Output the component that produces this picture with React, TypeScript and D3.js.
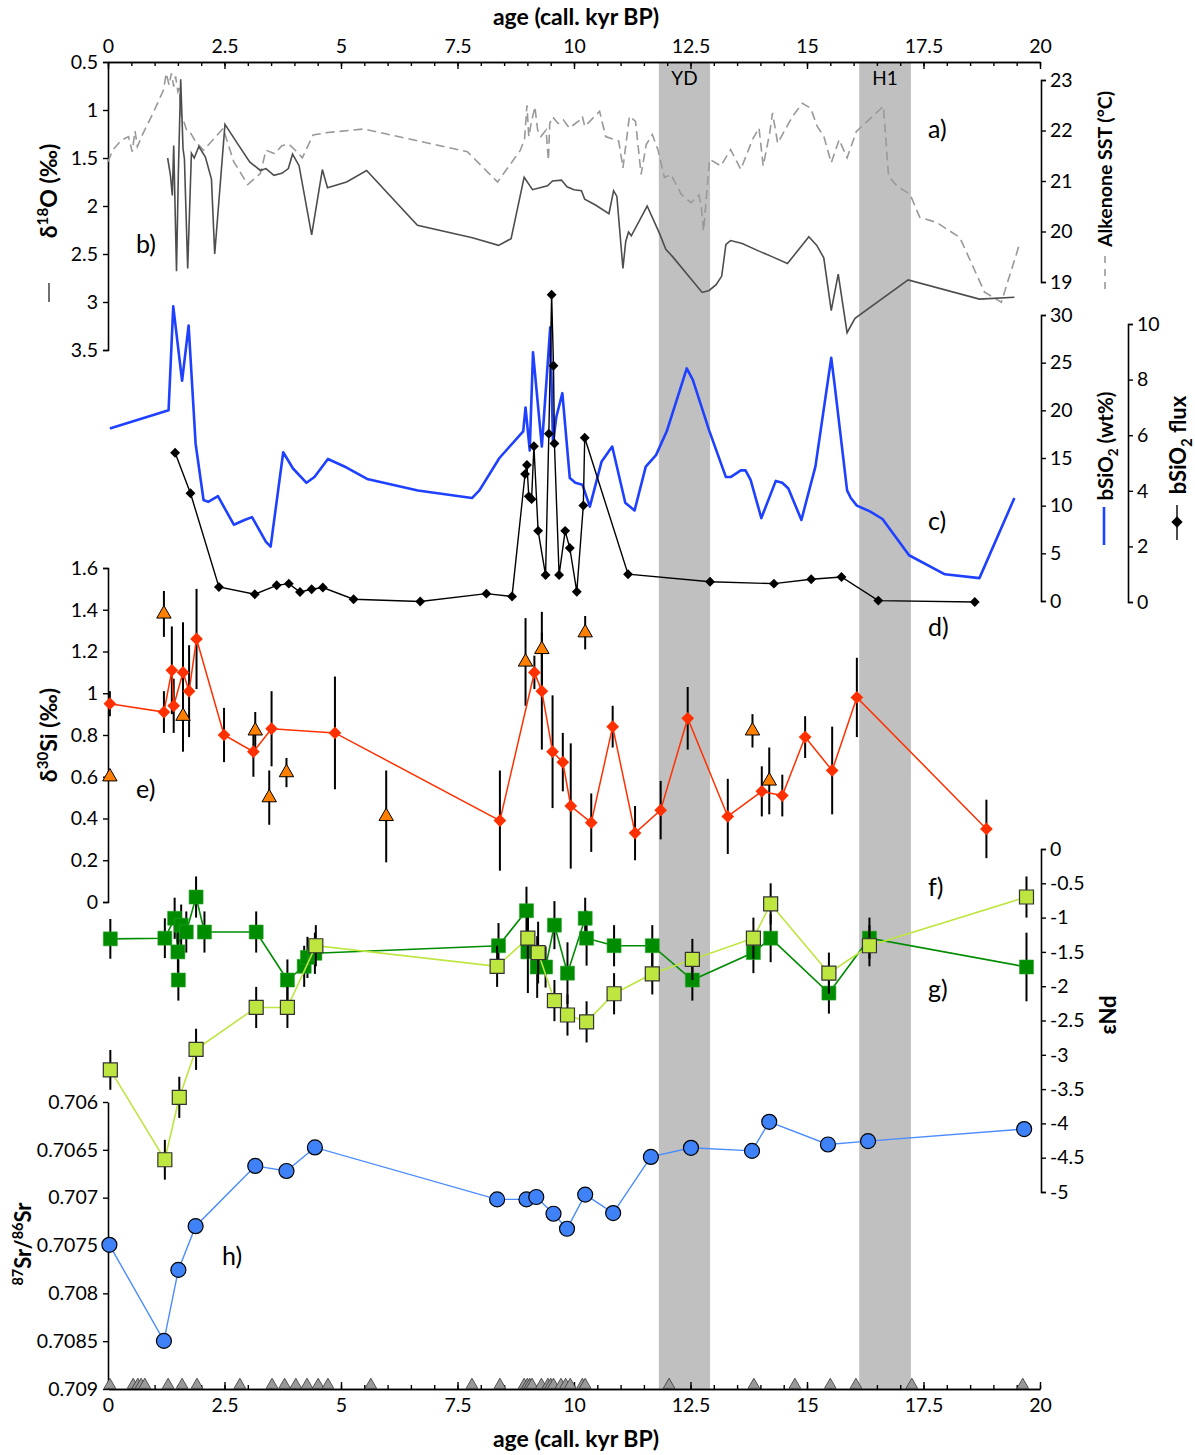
import React, { useEffect, useRef } from 'react';
import * as d3 from 'd3';

const W = 1195;
const H = 1455;
const FONT = 'Lato, "Open Sans", sans-serif';

// climate event bands (kyr BP)
const bands: [string, number, number][] = [
  ['YD', 11.82, 12.92],
  ['H1', 16.12, 17.23],
];

// b) d18O (permil) [age, value]
const d18O: [number, number][] = [
  [1.28, 1.5], [1.34, 1.68], [1.38, 1.89], [1.41, 1.37], [1.47, 2.68], [1.51, 1.65], [1.56, 0.68], [1.61, 1.4],
  [1.64, 1.51], [1.71, 2.65], [1.79, 1.45], [1.85, 1.5], [1.95, 1.38], [2.09, 1.49], [2.22, 1.72], [2.29, 2.5],
  [2.51, 1.15], [2.78, 1.35], [3.04, 1.54], [3.27, 1.63], [3.39, 1.61], [3.56, 1.68], [3.73, 1.66], [3.87, 1.61],
  [3.96, 1.46], [4.1, 1.58], [4.37, 2.3], [4.6, 1.62], [4.71, 1.81], [5.12, 1.75], [5.55, 1.63], [6.64, 2.2],
  [7.82, 2.33], [8.38, 2.41], [8.65, 2.34], [8.93, 1.7], [9.11, 1.83], [9.43, 1.79], [9.54, 1.74], [9.73, 1.73],
  [9.85, 1.8], [10.0, 1.83], [10.16, 1.84], [10.23, 1.93], [10.46, 1.99], [10.75, 2.08], [10.85, 1.84], [10.92, 1.9],
  [11.05, 2.65], [11.11, 2.37], [11.17, 2.27], [11.23, 2.31], [11.57, 2.0], [11.83, 2.28], [11.97, 2.45], [12.12, 2.53],
  [12.75, 2.9], [12.9, 2.88], [13.05, 2.82], [13.17, 2.73], [13.26, 2.4], [13.36, 2.36], [13.61, 2.39], [13.97, 2.47],
  [14.26, 2.53], [14.58, 2.6], [15.04, 2.32], [15.21, 2.41], [15.36, 2.54], [15.52, 3.09], [15.67, 2.71], [15.86, 3.32],
  [16.03, 3.17], [17.17, 2.77], [18.7, 2.97], [19.45, 2.95],
];

// a) alkenone SST (degC) [age, value]
const sst: [number, number][] = [
  [0, 21.38], [0.1, 21.61], [0.29, 21.81], [0.44, 21.88], [0.52, 21.58], [0.58, 21.99], [0.63, 21.68], [0.75, 21.94],
  [0.98, 22.37], [1.19, 22.8], [1.25, 23.13], [1.31, 22.9], [1.36, 23.13], [1.41, 22.87], [1.45, 23.07], [1.5, 22.77],
  [1.53, 22.84], [1.57, 22.31], [1.63, 22.17], [1.7, 21.97], [1.78, 21.94], [1.88, 21.78], [2.05, 21.61], [2.47, 22.04],
  [2.7, 21.38], [3.0, 20.93], [3.27, 21.15], [3.39, 21.61], [3.58, 21.54], [3.73, 21.7], [3.88, 21.73], [4.02, 21.61],
  [4.17, 21.46], [4.4, 21.91], [4.72, 21.96], [5.49, 22.03], [7.71, 21.58], [8.36, 20.98], [8.85, 21.61], [8.94, 21.84],
  [8.99, 22.5], [9.03, 21.88], [9.08, 22.14], [9.16, 22.47], [9.22, 22.01], [9.29, 21.88], [9.4, 22.01], [9.45, 21.41],
  [9.48, 22.14], [9.54, 22.27], [9.66, 22.14], [9.77, 22.21], [9.9, 22.05], [10.13, 22.21], [10.18, 22.28], [10.23, 22.08],
  [10.55, 22.38], [10.68, 21.88], [10.96, 21.79], [11.05, 21.26], [11.19, 22.28], [11.32, 22.18], [11.44, 21.13], [11.55, 21.72],
  [11.68, 21.92], [11.8, 21.62], [11.94, 21.07], [12.08, 21.13], [12.3, 20.74], [12.51, 20.57], [12.68, 20.72], [12.73, 20.51],
  [12.78, 20.01], [12.91, 21.43], [13.15, 21.3], [13.36, 21.62], [13.58, 21.23], [13.83, 21.82], [13.97, 22.05], [14.06, 21.3],
  [14.2, 21.95], [14.26, 22.35], [14.37, 21.75], [14.69, 22.28], [14.9, 22.54], [15.08, 22.44], [15.22, 22.08], [15.36, 21.89],
  [15.52, 21.36], [15.69, 21.82], [15.86, 21.46], [16.06, 21.98], [16.64, 22.48], [16.75, 21.1], [16.93, 20.9], [17.21, 20.74],
  [17.42, 20.28], [17.78, 20.18], [18.28, 19.88], [18.81, 18.8], [19.17, 18.6], [19.56, 19.75],
];

// c) bSiO2 (wt%) [age, value]
const bsio2: [number, number][] = [
  [0.04, 18.1], [1.3, 20.0], [1.4, 30.9], [1.59, 23.1], [1.73, 28.9], [1.88, 16.5], [2.05, 10.6], [2.15, 10.4],
  [2.36, 11.0], [2.7, 8.0], [2.93, 8.5], [3.09, 8.8], [3.39, 6.2], [3.49, 5.7], [3.76, 15.6], [3.97, 13.9],
  [4.26, 12.4], [4.43, 13.0], [4.72, 14.9], [5.12, 14.0], [5.56, 12.8], [6.65, 11.6], [7.81, 10.8], [7.97, 11.6],
  [8.4, 15.0], [8.91, 17.8], [8.96, 20.3], [9.05, 15.8], [9.12, 26.1], [9.31, 16.2], [9.49, 28.7], [9.55, 16.5],
  [9.62, 19.3], [9.75, 21.8], [9.91, 12.9], [10.03, 12.4], [10.18, 12.2], [10.34, 9.9], [10.59, 14.6], [10.82, 16.2],
  [11.1, 10.3], [11.3, 9.5], [11.54, 14.1], [11.76, 15.3], [11.99, 17.8], [12.42, 24.4], [12.55, 23.2], [12.9, 17.9],
  [13.26, 13.0], [13.36, 13.0], [13.58, 13.7], [13.68, 13.7], [13.79, 12.7], [14.02, 8.7], [14.33, 12.6], [14.47, 12.4],
  [14.6, 11.8], [14.88, 8.5], [15.18, 14.1], [15.52, 25.5], [15.59, 22.8], [15.86, 11.6], [15.94, 10.8], [16.07, 10.0],
  [16.35, 9.4], [16.62, 8.6], [17.19, 4.8], [17.96, 2.8], [18.7, 2.4], [19.45, 10.8],
];

// d) bSiO2 flux [age, value]
const flux: [number, number][] = [
  [1.44, 5.37], [1.77, 3.91], [2.38, 0.54], [3.15, 0.28], [3.62, 0.6], [3.88, 0.66], [4.12, 0.36], [4.37, 0.46],
  [4.61, 0.52], [5.27, 0.1], [6.7, 0.02], [8.12, 0.3], [8.67, 0.2], [8.95, 4.6], [8.99, 4.93], [9.03, 3.8],
  [9.09, 3.7], [9.14, 5.6], [9.23, 2.56], [9.39, 0.97], [9.46, 6.05], [9.52, 11.05], [9.56, 8.5], [9.58, 5.7],
  [9.68, 0.97], [9.81, 2.56], [9.91, 1.94], [10.06, 0.37], [10.2, 3.47], [10.23, 5.91], [11.16, 1.0], [12.92, 0.73],
  [14.29, 0.66], [15.09, 0.82], [15.74, 0.9], [16.53, 0.05], [18.6, 0.0],
];

// e) d30Si diatoms [age, value, error]
const d30Si: [number, number, number][] = [
  [0.04, 0.95, 0.06], [1.2, 0.91, 0.1], [1.37, 1.11, 0.21], [1.41, 0.94, 0.13], [1.61, 1.1, 0.24], [1.74, 1.01, 0.22],
  [1.9, 1.26, 0.24], [2.49, 0.8, 0.13], [3.12, 0.72, 0.12], [3.51, 0.83, 0.18], [4.87, 0.81, 0.27], [8.41, 0.39, 0.24],
  [9.15, 1.1, 0.08], [9.31, 1.01, 0.28], [9.54, 0.72, 0.27], [9.76, 0.67, 0.14], [9.93, 0.46, 0.3], [10.37, 0.38, 0.14],
  [10.83, 0.84, 0.1], [11.31, 0.33, 0.13], [11.86, 0.44, 0.14], [12.44, 0.88, 0.15], [13.3, 0.41, 0.18], [14.03, 0.53, 0.12],
  [14.47, 0.51, 0.1], [14.96, 0.79, 0.1], [15.54, 0.63, 0.21], [16.07, 0.98, 0.19], [18.85, 0.35, 0.14],
];

// e) d30Si second fraction (triangles) [age, value, error]
const d30SiTri: [number, number, number][] = [
  [0.04, 0.6, 0], [1.2, 1.38, 0.11], [1.61, 0.89, 0.17], [3.16, 0.82, 0.09], [3.46, 0.5, 0.13], [3.83, 0.62, 0.07],
  [5.97, 0.41, 0.22], [8.96, 1.15, 0.21], [9.31, 1.21, 0.18], [10.24, 1.29, 0.08], [13.83, 0.82, 0.08], [14.19, 0.58, 0.16],
];

// f) eNd dark green [age, value, error]
const ndF: [number, number, number][] = [
  [0.05, -1.31, 0.29], [1.22, -1.3, 0.29], [1.43, -1.01, 0.3], [1.5, -1.5, 0.3], [1.57, -1.11, 0.3], [1.68, -1.21, 0.3],
  [1.89, -0.7, 0.3], [2.07, -1.21, 0.3], [3.18, -1.21, 0.3], [3.85, -1.91, 0.3], [4.21, -1.71, 0.3], [4.28, -1.58, 0.3],
  [4.44, -1.52, 0.3], [8.38, -1.41, 0.33], [8.98, -0.9, 0.35], [9.01, -1.5, 0.6], [9.21, -1.72, 0.45], [9.39, -1.72, 0.3],
  [9.58, -1.11, 0.35], [9.86, -1.81, 0.45], [10.24, -1.01, 0.3], [10.27, -1.3, 0.4], [10.86, -1.41, 0.3], [11.68, -1.41, 0.3],
  [12.54, -1.91, 0.3], [13.85, -1.51, 0.3], [14.22, -1.3, 0.35], [15.47, -2.1, 0.3], [16.34, -1.3, 0.3], [19.71, -1.72, 0.5],
];
const ndFLone: [number, number, number][] = [[1.51, -1.91, 0.3]];

// g) eNd light green [age, value, error]
const ndG: [number, number, number][] = [
  [0.05, -3.22, 0.29], [1.22, -4.53, 0.29], [1.53, -3.62, 0.3], [1.89, -2.92, 0.3], [3.18, -2.31, 0.3], [3.85, -2.31, 0.3],
  [4.46, -1.41, 0.3], [8.35, -1.71, 0.3], [9.01, -1.3, 0.3], [9.23, -1.51, 0.45], [9.58, -2.21, 0.3], [9.86, -2.42, 0.3],
  [10.27, -2.52, 0.3], [10.86, -2.11, 0.3], [11.68, -1.82, 0.3], [12.54, -1.61, 0.3], [13.85, -1.3, 0.3], [14.22, -0.8, 0.3],
  [15.47, -1.81, 0.3], [16.34, -1.41, 0.3], [19.71, -0.7, 0.3],
];

// h) 87Sr/86Sr [age, value]
const sr: [number, number][] = [
  [0.03, 0.707493], [1.2, 0.708497], [1.51, 0.707755], [1.88, 0.707298], [3.16, 0.706668], [3.83, 0.706721], [4.44, 0.706475],
  [8.35, 0.707018], [8.98, 0.707018], [9.19, 0.706993], [9.56, 0.707168], [9.85, 0.707325], [10.24, 0.706968], [10.84, 0.707161],
  [11.65, 0.706574], [12.51, 0.706479], [13.82, 0.706511], [14.19, 0.706207], [15.45, 0.706444], [16.31, 0.706409], [19.66, 0.706283],
];

// radiocarbon dates (age control points)
const dates: number[] = [
  0.04, 0.54, 0.64, 0.71, 0.79, 1.29, 1.59, 1.91, 2.83, 3.52, 3.79, 4.03, 4.27, 4.51, 4.72, 5.64, 7.81, 8.41, 8.93,
  9.0, 9.05, 9.1, 9.3, 9.44, 9.5, 9.56, 9.72, 9.82, 9.92, 10.18, 10.24, 12.04, 13.86, 14.74, 15.5, 16.05, 17.25, 19.63,
];

// tick values
const ageMajor = [0, 2.5, 5, 7.5, 10, 12.5, 15, 17.5, 20];
const ageMinor = d3.range(0, 41).map(i => i / 2);
const d18OTicks = [0.5, 1, 1.5, 2, 2.5, 3, 3.5];
const sstTicks = [19, 20, 21, 22, 23];
const bsio2Ticks = [0, 5, 10, 15, 20, 25, 30];
const fluxTicks = [0, 2, 4, 6, 8, 10];
const d30Ticks = [0, 0.2, 0.4, 0.6, 0.8, 1, 1.2, 1.4, 1.6];
const ndTicks = [0, -0.5, -1, -1.5, -2, -2.5, -3, -3.5, -4, -4.5, -5];
const srTicks = [0.706, 0.7065, 0.707, 0.7075, 0.708, 0.7085, 0.709];

export default function App() {
  const svgRef = useRef<SVGSVGElement>(null);

  useEffect(() => {
    const svg = d3.select(svgRef.current);
    svg.selectAll('*').remove();

    const yTop = 62;
    const yBot = 1389;
    const xL = 108;
    const xR = 1041;
    const xFlux = 1128;
    const tickFs = 19.5;

    const x = d3.scaleLinear().domain([0, 20]).range([108, 1040]);
    const yO = d3.scaleLinear().domain([0.5, 3.5]).range([62, 350]);
    const ySST = d3.scaleLinear().domain([19, 23]).range([282, 80]);
    const ySi = d3.scaleLinear().domain([0, 30]).range([601, 315]);
    const yFlux = d3.scaleLinear().domain([0, 10]).range([602, 324]);
    const yD30 = d3.scaleLinear().domain([0, 1.6]).range([902, 568]);
    const yNd = d3.scaleLinear().domain([-5, 0]).range([1192, 849]);
    const ySr = d3.scaleLinear().domain([0.706, 0.709]).range([1102, yBot]);

    const styleAxis = (g: any, fs = tickFs) => {
      g.attr('font-family', FONT).attr('font-size', fs);
      g.select('.domain').attr('stroke', '#000').attr('stroke-width', 1.6);
      g.selectAll('.tick line').attr('stroke', '#000').attr('stroke-width', 1.4);
      g.selectAll('.tick text').attr('fill', '#000');
    };

    // grey event bands
    bands.forEach(([name, a, b]) => {
      svg.append('rect')
        .attr('x', x(a)).attr('y', yTop)
        .attr('width', x(b) - x(a)).attr('height', yBot - yTop)
        .attr('fill', '#c0c0c0');
      svg.append('text')
        .attr('x', (x(a) + x(b)) / 2).attr('y', 85)
        .attr('text-anchor', 'middle')
        .attr('font-family', FONT).attr('font-size', 19)
        .text(name);
    });

    // top age axis
    svg.append('g').attr('transform', `translate(0,${yTop})`)
      .call(d3.axisTop(x).tickValues(ageMinor).tickFormat(() => '').tickSizeInner(-4).tickSizeOuter(0))
      .call(g => styleAxis(g));
    svg.append('g').attr('transform', `translate(0,${yTop})`)
      .call(d3.axisTop(x).tickValues(ageMajor).tickFormat(d => String(d)).tickSizeInner(-7).tickSizeOuter(0).tickPadding(9))
      .call(g => styleAxis(g));

    // bottom age axis
    svg.append('g').attr('transform', `translate(0,${yBot})`)
      .call(d3.axisBottom(x).tickValues(ageMinor).tickFormat(() => '').tickSizeInner(-4).tickSizeOuter(0))
      .call(g => styleAxis(g));
    svg.append('g').attr('transform', `translate(0,${yBot})`)
      .call(d3.axisBottom(x).tickValues(ageMajor).tickFormat(d => String(d)).tickSizeInner(-7).tickSizeOuter(0).tickPadding(9))
      .call(g => styleAxis(g));

    // left axes
    svg.append('g').attr('transform', `translate(${xL},0)`)
      .call(d3.axisLeft(yO).tickValues(d18OTicks).tickFormat(d => String(d)).tickSize(5).tickPadding(5))
      .call(g => styleAxis(g));
    svg.append('g').attr('transform', `translate(${xL},0)`)
      .call(d3.axisLeft(yD30).tickValues(d30Ticks).tickFormat(d => String(d)).tickSize(5).tickPadding(5))
      .call(g => styleAxis(g));
    svg.append('g').attr('transform', `translate(${xL},0)`)
      .call(d3.axisLeft(ySr).tickValues(srTicks).tickFormat(d => String(d)).tickSize(5).tickSizeOuter(0).tickPadding(5))
      .call(g => styleAxis(g));

    // right axes
    svg.append('g').attr('transform', `translate(${xR},0)`)
      .call(d3.axisRight(ySST).tickValues(sstTicks).tickFormat(d => String(d)).tickSize(5).tickPadding(4))
      .call(g => styleAxis(g));
    svg.append('g').attr('transform', `translate(${xR},0)`)
      .call(d3.axisRight(ySi).tickValues(bsio2Ticks).tickFormat(d => String(d)).tickSize(5).tickPadding(4))
      .call(g => styleAxis(g));
    svg.append('g').attr('transform', `translate(${xFlux},0)`)
      .call(d3.axisRight(yFlux).tickValues(fluxTicks).tickFormat(d => String(d)).tickSize(5).tickPadding(4))
      .call(g => styleAxis(g));
    svg.append('g').attr('transform', `translate(${xR},0)`)
      .call(d3.axisRight(yNd).tickValues(ndTicks).tickFormat(d => String(d)).tickSize(5).tickPadding(4))
      .call(g => styleAxis(g));

    const line = (yS: any) => d3.line<any>().x(d => x(d[0])).y(d => yS(d[1]));
    const sq = (s: number) => d3.symbol().type(d3.symbolSquare).size(s * s)();
    const tri = (s: number) => d3.symbol().type(d3.symbolTriangle).size(s)();

    const errBars = (data: [number, number, number][], yS: any, w = 2) => {
      svg.append('g').selectAll('line').data(data.filter(d => d[2] > 0)).join('line')
        .attr('x1', d => x(d[0])).attr('x2', d => x(d[0]))
        .attr('y1', d => yS(d[1] - d[2])).attr('y2', d => yS(d[1] + d[2]))
        .attr('stroke', '#000').attr('stroke-width', w);
    };

    // h) Sr isotopes
    svg.append('path').datum(sr).attr('d', line(ySr))
      .attr('fill', 'none').attr('stroke', '#4a8cff').attr('stroke-width', 1.4);
    svg.append('g').selectAll('circle').data(sr).join('circle')
      .attr('cx', d => x(d[0])).attr('cy', d => ySr(d[1])).attr('r', 7.5)
      .attr('fill', '#3f82f7').attr('stroke', '#000').attr('stroke-width', 1.2);

    // age control triangles
    svg.append('g').selectAll('path').data(dates).join('path')
      .attr('d', tri(60))
      .attr('transform', d => `translate(${x(d)},${yBot - 4})`)
      .attr('fill', '#999').attr('stroke', '#333').attr('stroke-width', 0.8);

    // f) eNd dark green
    svg.append('path').datum(ndF).attr('d', line(yNd))
      .attr('fill', 'none').attr('stroke', '#008c00').attr('stroke-width', 1.6);
    errBars(ndF.concat(ndFLone), yNd);
    svg.append('g').selectAll('path').data(ndF.concat(ndFLone)).join('path')
      .attr('d', sq(14))
      .attr('transform', d => `translate(${x(d[0])},${yNd(d[1])})`)
      .attr('fill', '#008c00').attr('stroke', '#2aa52a').attr('stroke-width', 0.6);

    // g) eNd light green
    svg.append('path').datum(ndG).attr('d', line(yNd))
      .attr('fill', 'none').attr('stroke', '#bde640').attr('stroke-width', 1.6);
    errBars(ndG, yNd);
    svg.append('g').selectAll('path').data(ndG).join('path')
      .attr('d', sq(14))
      .attr('transform', d => `translate(${x(d[0])},${yNd(d[1])})`)
      .attr('fill', '#bde640').attr('stroke', '#333').attr('stroke-width', 1.2);

    // e) d30Si
    errBars(d30Si, yD30);
    errBars(d30SiTri, yD30);
    svg.append('path').datum(d30Si).attr('d', line(yD30))
      .attr('fill', 'none').attr('stroke', '#ff3000').attr('stroke-width', 1.5);
    svg.append('g').selectAll('path').data(d30Si).join('path')
      .attr('d', sq(9))
      .attr('transform', d => `translate(${x(d[0])},${yD30(d[1])}) rotate(45)`)
      .attr('fill', '#ff3000');
    svg.append('g').selectAll('path').data(d30SiTri).join('path')
      .attr('d', tri(90))
      .attr('transform', d => `translate(${x(d[0])},${yD30(d[1])})`)
      .attr('fill', '#ff8000').attr('stroke', '#000').attr('stroke-width', 1);

    // c) bSiO2 wt%
    svg.append('path').datum(bsio2).attr('d', line(ySi))
      .attr('fill', 'none').attr('stroke', '#1e40ff').attr('stroke-width', 2.6).attr('stroke-linejoin', 'round');

    // d) bSiO2 flux
    svg.append('path').datum(flux).attr('d', line(yFlux))
      .attr('fill', 'none').attr('stroke', '#000').attr('stroke-width', 1.4);
    svg.append('g').selectAll('path').data(flux).join('path')
      .attr('d', sq(7))
      .attr('transform', d => `translate(${x(d[0])},${yFlux(d[1])}) rotate(45)`)
      .attr('fill', '#000');

    // a) SST and b) d18O
    svg.append('path').datum(sst).attr('d', line(ySST))
      .attr('fill', 'none').attr('stroke', '#999').attr('stroke-width', 1.6).attr('stroke-dasharray', '9,5');
    svg.append('path').datum(d18O).attr('d', line(yO))
      .attr('fill', 'none').attr('stroke', '#4d4d4d').attr('stroke-width', 1.6);

    // axis titles
    svg.append('text').attr('x', 576).attr('y', 25).attr('text-anchor', 'middle')
      .attr('font-family', FONT).attr('font-size', 23).attr('font-weight', 'bold').text('age (call. kyr BP)');
    svg.append('text').attr('x', 576).attr('y', 1447).attr('text-anchor', 'middle')
      .attr('font-family', FONT).attr('font-size', 23).attr('font-weight', 'bold').text('age (call. kyr BP)');

    const vTitle = (cx: number, cy: number, parts: [string, string][], fs = 23) => {
      const t = svg.append('text')
        .attr('transform', `translate(${cx},${cy}) rotate(-90)`)
        .attr('text-anchor', 'middle')
        .attr('font-family', FONT).attr('font-size', fs).attr('font-weight', 'bold');
      let shift = 0;
      parts.forEach(([kind, s]) => {
        const target = kind === 'sup' ? -fs * 0.38 : kind === 'sub' ? fs * 0.25 : 0;
        const sp = t.append('tspan').attr('dy', target - shift).text(s);
        if (kind !== 'n') sp.attr('font-size', fs * 0.66);
        shift = target;
      });
    };

    vTitle(57, 191, [['n', 'δ'], ['sup', '18'], ['n', 'O (‰)']]);
    vTitle(57, 735, [['n', 'δ'], ['sup', '30'], ['n', 'Si (‰)']]);
    vTitle(31, 1244, [['sup', '87'], ['n', 'Sr/'], ['sup', '86'], ['n', 'Sr']], 22);
    vTitle(1112, 169, [['n', 'Alkenone SST (°C)']], 19.5);
    vTitle(1113, 446, [['n', 'bSiO'], ['sub', '2'], ['n', ' (wt%)']], 20.5);
    vTitle(1186, 445, [['n', 'bSiO'], ['sub', '2'], ['n', ' flux']], 22);
    vTitle(1116, 1015, [['n', 'εNd']], 22);

    // legend keys next to titles
    svg.append('line').attr('x1', 49).attr('x2', 49).attr('y1', 283).attr('y2', 302)
      .attr('stroke', '#4d4d4d').attr('stroke-width', 1.6);
    svg.append('line').attr('x1', 1105).attr('x2', 1105).attr('y1', 256).attr('y2', 292)
      .attr('stroke', '#999').attr('stroke-width', 1.6).attr('stroke-dasharray', '7,6');
    svg.append('line').attr('x1', 1104).attr('x2', 1104).attr('y1', 507).attr('y2', 545)
      .attr('stroke', '#1e40ff').attr('stroke-width', 2.6);
    svg.append('line').attr('x1', 1177).attr('x2', 1177).attr('y1', 505).attr('y2', 540)
      .attr('stroke', '#000').attr('stroke-width', 1.4);
    svg.append('path').attr('d', sq(8)).attr('transform', 'translate(1177,522) rotate(45)').attr('fill', '#000');

    // panel letters
    const letters: [string, number, number][] = [
      ['a)', 928, 138], ['b)', 136, 253], ['c)', 928, 530], ['d)', 928, 636],
      ['e)', 136, 798], ['f)', 928, 896], ['g)', 928, 998], ['h)', 222, 1265],
    ];
    svg.append('g').selectAll('text').data(letters).join('text')
      .attr('x', d => d[1]).attr('y', d => d[2])
      .attr('font-family', FONT).attr('font-size', 25)
      .text(d => d[0]);
  }, []);

  return (
    <svg ref={svgRef} width={W} height={H}
      style={{ position: 'absolute', left: 0, top: 0, background: '#fff' }} />
  );
}
